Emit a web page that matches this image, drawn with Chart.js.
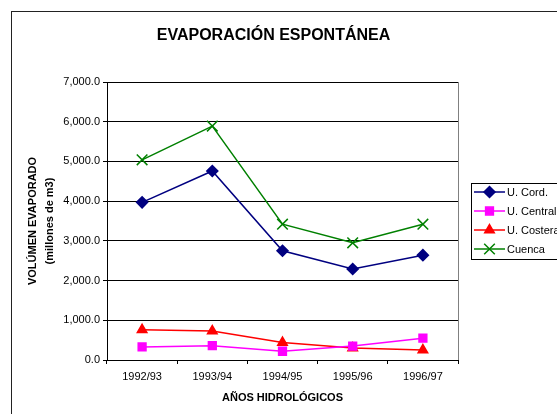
<!DOCTYPE html>
<html>
<head>
<meta charset="utf-8">
<script src="https://cdn.jsdelivr.net/npm/chart.js@4/dist/chart.umd.min.js"></script>
<style>
  html, body { margin: 0; padding: 0; background: #fff; }
  #wrap { width: 557px; height: 414px; }
</style>
</head>
<body>
<div id="wrap"><canvas id="evap" width="557" height="414"></canvas></div>
<script>
let chartTitle = "EVAPORACIÓN ESPONTÁNEA";
let yTitle = ["VOLÚMEN EVAPORADO", "(millones de m3)"];
let xTitle = "AÑOS HIDROLÓGICOS";
let years = ["1992/93", "1993/94", "1994/95", "1995/96", "1996/97"];
let seriesNames = ["U. Cord.", "U. Central", "U. Costera", "Cuenca"];
let uCord = [3970, 4760, 2750, 2290, 2640];
let uCentral = [330, 360, 220, 350, 550];
let uCostera = [760, 730, 440, 300, 250];
let cuenca = [5040, 5890, 3420, 2950, 3420];

let font = "Arial, 'Liberation Sans', sans-serif";

function ds(label, data, color, style, radius)
{
  return {
    label: label, data: data, borderColor: color, backgroundColor: color,
    borderWidth: 1.5, tension: 0,
    pointStyle: style, pointRadius: radius, pointHoverRadius: radius,
    pointBackgroundColor: color, pointBorderColor: color, pointBorderWidth: 1.5
  };
}

// frame, title, plot border and legend box
let extras = {
  id: "extras",
  beforeDraw(chart) {
    let c = chart.ctx;
    c.save();
    c.fillStyle = "#fff";
    c.fillRect(0, 0, chart.width, chart.height);
    c.strokeStyle = "#222";
    c.lineWidth = 1;
    c.strokeRect(11.5, 11.5, 700, 600);
    c.fillStyle = "#000";
    c.font = "bold 16px " + font;
    c.textAlign = "center";
    c.textBaseline = "middle";
    c.fillText(chartTitle, 273.5, 36);
    c.restore();
  },
  beforeDatasetsDraw(chart) {
    let a = chart.chartArea;
    let c = chart.ctx;
    c.save();
    c.strokeStyle = "#808080";
    c.lineWidth = 1;
    c.beginPath();
    c.moveTo(Math.round(a.right) + 0.5, a.top);
    c.lineTo(Math.round(a.right) + 0.5, a.bottom);
    c.stroke();
    c.restore();
  },
  afterDraw(chart) {
    let c = chart.ctx;
    c.save();
    c.strokeStyle = "#000";
    c.lineWidth = 1;
    c.strokeRect(471.5, 183.5, 120, 76);
    c.font = "11px " + font;
    c.textAlign = "left";
    c.textBaseline = "middle";
    let rows = [192, 211, 230, 249];
    chart.data.datasets.forEach((d, i) => {
      let y = rows[i];
      c.strokeStyle = d.borderColor;
      c.lineWidth = d.borderWidth;
      c.beginPath();
      c.moveTo(474, y);
      c.lineTo(505, y);
      c.stroke();
      c.fillStyle = d.pointBackgroundColor;
      c.strokeStyle = d.pointBorderColor;
      c.lineWidth = d.pointBorderWidth;
      Chart.helpers.drawPoint(c, {pointStyle: d.pointStyle, radius: d.pointRadius, rotation: 0, borderWidth: d.pointBorderWidth}, 489.5, y);
      c.fillStyle = "#000";
      c.fillText(d.label, 507, y + 0.5);
    });
    c.restore();
  }
};

let ctx = document.getElementById("evap").getContext("2d");
let evapChart = new Chart(ctx, {
  type: "line",
  data: {
    labels: years,
    datasets: [
      ds(seriesNames[0], uCord, "#000080", "rectRot", 5.5),
      ds(seriesNames[1], uCentral, "#FF00FF", "rect", 5.5),
      ds(seriesNames[2], uCostera, "#FF0000", "triangle", 5.5),
      ds(seriesNames[3], cuenca, "#008000", "crossRot", 7.5)
    ]
  },
  options: {
    responsive: false,
    animation: false,
    layout: { padding: { left: 0, right: 99, top: 82, bottom: 0 } },
    plugins: {
      legend: { display: false },
      title: { display: false },
      tooltip: { enabled: false }
    },
    scales: {
      x: {
        offset: true,
        grid: { display: true, drawOnChartArea: false, offset: true, color: "#000", tickLength: 4 },
        border: { display: true, color: "#000", width: 1 },
        ticks: { color: "#000", padding: 6, maxRotation: 0, font: { family: font, size: 11 } },
        title: { display: true, text: xTitle, color: "#000", padding: { top: 0, bottom: 9.4 },
                 font: { family: font, size: 11, weight: "bold" } },
        afterFit(scale) { scale.height = 54; }
      },
      y: {
        min: 0, max: 7000,
        grid: { color: "#000", tickLength: 4 },
        border: { display: true, color: "#000", width: 1 },
        ticks: {
          stepSize: 1000, color: "#000", padding: 3,
          font: { family: font, size: 11 },
          callback: v => v.toLocaleString("en-US", { minimumFractionDigits: 1, maximumFractionDigits: 1 })
        },
        title: { display: true, text: yTitle, color: "#000", padding: { top: 24.75, bottom: 0 },
                 font: { family: font, size: 11, weight: "bold", lineHeight: 1.5 } },
        afterFit(scale) { scale.width = 107; }
      }
    }
  },
  plugins: [extras]
});
</script>
</body>
</html>
